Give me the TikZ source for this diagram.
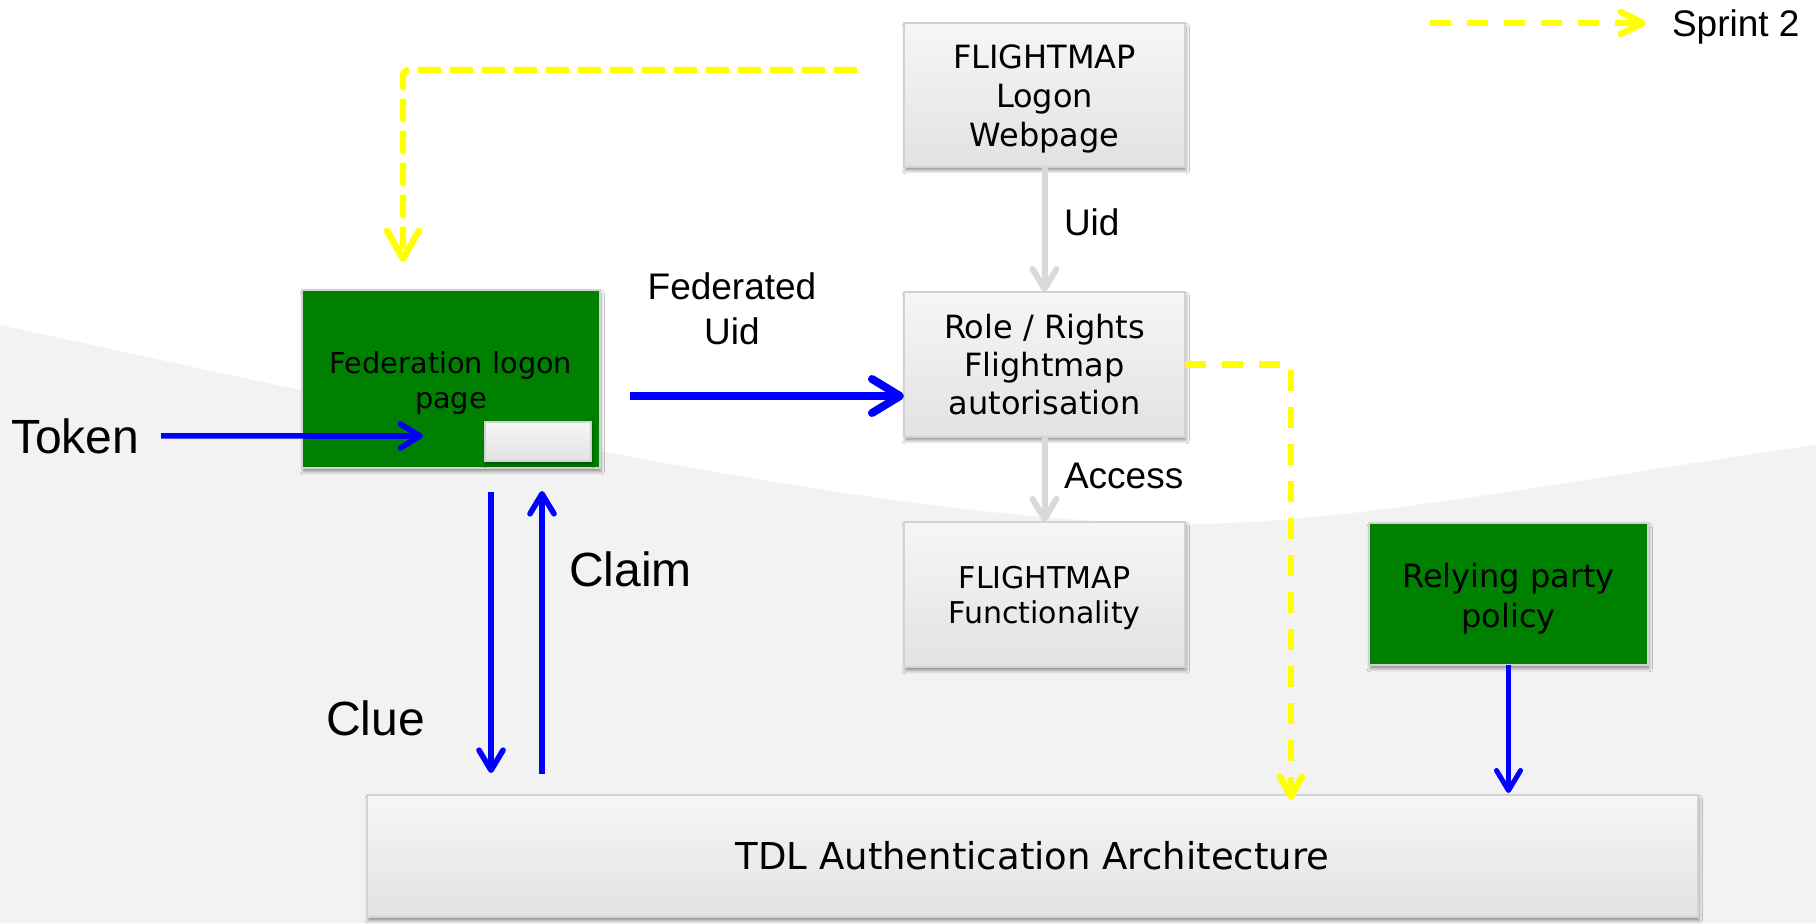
\documentclass[tikz,border=0pt]{standalone}
\usepackage{fontspec}
\setmainfont{DejaVu Sans}
\newfontfamily\labelfont{Liberation Sans}
\usetikzlibrary{arrows.meta,shadows.blur}

\definecolor{bgGray}{HTML}{F2F2F2}
\definecolor{boxTop}{HTML}{F6F6F6}
\definecolor{boxBot}{HTML}{E2E2E2}
\definecolor{boxEdge}{HTML}{D2D2D2}
\definecolor{leafGreen}{HTML}{008000}
\definecolor{flowBlue}{HTML}{0000FF}
\definecolor{sprintYellow}{HTML}{FFFF00}
\definecolor{linkGray}{HTML}{D9D9D9}

\tikzset{
  boxshadow/.style={blur shadow={shadow xshift=0.6pt, shadow yshift=-1.8pt,
      shadow blur radius=1.6pt, shadow opacity=40}},
  greybox/.style={draw=boxEdge, line width=0.6pt, top color=boxTop,
      bottom color=boxBot, inner sep=0pt, outer sep=0pt, align=center,
      text=black, boxshadow},
  greenbox/.style={draw=boxEdge, line width=0.9pt, fill=leafGreen,
      inner sep=0pt, outer sep=0pt, align=center, text=black, boxshadow},
  boxtext/.style={inner sep=0pt, outer sep=0pt, align=center, text=black},
  lbl/.style={inner sep=0pt, outer sep=0pt, anchor=base west, text=black},
  bluelink/.style={draw=flowBlue, line width=2.8pt,
      -{Straight Barb[length=10pt, width=12pt, round]}},
  greylink/.style={draw=linkGray, line width=3pt,
      -{Straight Barb[length=10pt, width=12pt, round]}},
  sprintlink/.style={draw=sprintYellow, line width=3.2pt,
      dash pattern=on 10.5pt off 8pt},
}

\begin{document}
\begin{tikzpicture}[x=0.5pt, y=-0.5pt]
  % canvas and the light grey wave in the lower part
  \useasboundingbox (0,0) rectangle (1816,923);
  \fill[white] (0,0) rectangle (1816,923);
  \fill[bgGray] (0,325) .. controls (450,423) and (900,524) .. (1190,524)
    .. controls (1350,524) and (1600,475) .. (1816,445)
    -- (1816,923) -- (0,923) -- cycle;

  % boxes
  \node[greybox, minimum width=140.5pt, minimum height=72pt] (logon) at (1044.5,95) {};
  \node[boxtext, font=\fontsize{16}{19.5}\selectfont] (logonText) at (1044.5,99)
    {FLIGHTMAP\\Logon\\Webpage};
  \node[greybox, minimum width=140.5pt, minimum height=72.5pt,
        font=\fontsize{16}{19}\selectfont]
    (role) at (1044.5,364.5) {Role / Rights\\Flightmap\\autorisation};
  \node[greybox, minimum width=140.5pt, minimum height=72.5pt] (func) at (1044.5,594.5) {};
  \node[boxtext, font=\fontsize{15}{17.5}\selectfont] (funcText) at (1044.5,598)
    {FLIGHTMAP\\Functionality};
  \node[greenbox, minimum width=149pt, minimum height=89pt] (fed) at (451,379) {};
  \node[boxtext, font=\fontsize{14.4}{17.5}\selectfont] (fedText) at (451,383)
    {Federation logon\\page};
  \node[greybox, minimum width=53pt, minimum height=19.5pt]
    (fedbtn) at (538,441.5) {};
  \node[greenbox, minimum width=139.5pt, minimum height=71pt] (rely) at (1508.5,594) {};
  \node[boxtext, font=\fontsize{16}{20}\selectfont] (relyText) at (1508.5,598.5)
    {Relying party\\policy};
  \node[greybox, minimum width=665.5pt, minimum height=61pt,
        font=\fontsize{18.5}{22}\selectfont]
    (tdl) at (1032.5,856) {TDL Authentication Architecture};

  % labels
  \node[lbl, font=\labelfont\fontsize{24}{28}\selectfont] (token) at (11,453) {Token};
  \node[inner sep=0pt, align=center, font=\labelfont\fontsize{18.5}{22.5}\selectfont]
    (feduid) at (732,309) {Federated\\Uid};
  \node[lbl, font=\labelfont\fontsize{18.5}{22}\selectfont] (uid) at (1064,235) {Uid};
  \node[lbl, font=\labelfont\fontsize{18.5}{22}\selectfont] (access) at (1064,488) {Access};
  \node[lbl, font=\labelfont\fontsize{24}{28}\selectfont] (claim) at (569,586) {Claim};
  \node[lbl, font=\labelfont\fontsize{24}{28}\selectfont] (clue) at (326,735) {Clue};
  \node[lbl, font=\labelfont\fontsize{18.5}{22}\selectfont] (sprint) at (1672,36) {Sprint 2};

  % helper coordinates for connector lanes
  \coordinate (tokTip) at (423,436);
  \coordinate (fedStart) at (630,396);
  \coordinate (clueLane) at (491,0);
  \coordinate (claimLane) at (542,0);
  \coordinate (sprintCorner) at (403,70);
  \coordinate (sprintLane) at (1291,0);
  \coordinate (legStart) at (1430,23);

  % grey flow inside FLIGHTMAP
  \draw[greylink] (logon.south) -- (role.north);
  \draw[greylink] (role.south) -- (func.north);

  % blue flows
  \draw[bluelink, shorten <=11pt] (token.east) -- (tokTip);
  \draw[bluelink, line width=4pt,
        -{Straight Barb[length=14pt, width=17pt, round]}]
    (fedStart) -- (fedStart -| role.west);
  \draw[bluelink, shorten <=12pt, shorten >=11pt]
    (fed.south -| clueLane) -- (tdl.north -| clueLane);
  \draw[bluelink, shorten <=10.5pt, shorten >=11.5pt]
    (tdl.north -| claimLane) -- (fed.south -| claimLane);
  \draw[bluelink, line width=2.5pt, shorten >=1pt]
    (rely.south) -- (tdl.north -| rely.south);

  % sprint 2 flows
  \draw[sprintlink, dash pattern=on 11.5pt off 4.5pt, rounded corners=3pt,
        shorten <=23.5pt, shorten >=14pt,
        -{Straight Barb[length=14pt, width=16pt, round]}]
    (logon.west |- sprintCorner) -- (sprintCorner) -- (fed.north -| sprintCorner);
  \draw[sprintlink, shorten >=-2.5pt,
        -{Straight Barb[length=10pt, width=11pt, round]}]
    (role.east) -- (role.east -| sprintLane) -- (tdl.north -| sprintLane);

  % legend
  \draw[sprintlink, shorten >=13pt,
        -{Straight Barb[length=11pt, width=11pt, round]}]
    (legStart) -- (legStart -| sprint.west);
\end{tikzpicture}
\end{document}
